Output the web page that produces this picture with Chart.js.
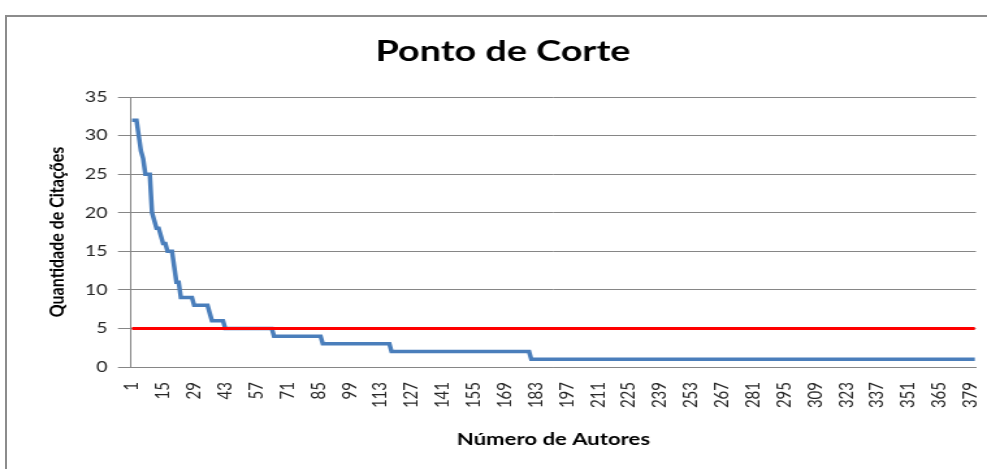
<!DOCTYPE html>
<html>
<head>
<meta charset="utf-8">
<script src="https://cdn.jsdelivr.net/npm/chart.js@4.4.0/dist/chart.umd.min.js"></script>
<style>
    html, body { margin: 0; padding: 0; background: #fff; overflow: hidden; }
    #moldura { position: absolute; left: 5px; top: 15px; width: 1000px; height: 500px;
        border-left: 2px solid #8c8c8c; border-top: 2px solid #8c8c8c; }
    /* o grafico original esta esticado na horizontal */
    #caixa { position: absolute; left: 0; top: 0; width: 759px; height: 469px;
        transform: scaleX(1.3004); transform-origin: 0 0; }
</style>
</head>
<body>
<div id="moldura"></div>
<div id="caixa"><canvas id="graficoCorte" width="759" height="469"></canvas></div>
<script>
// niveis de citacao e quantos autores ficam em cada nivel
const niveisCitacoes = [32, 30, 28, 27, 25, 20, 19, 18, 17, 16, 15, 13, 11, 9, 8, 7, 6, 5, 4, 3, 2, 1];
const autoresPorNivel = [3, 1, 1, 1, 3, 1, 1, 2, 1, 2, 3, 1, 2, 6, 7, 1, 6, 22, 22, 31, 63, 201];
const pontoDeCorte = 5;
const rotulosEixoX = ["1", "15", "29", "43", "57", "71", "85", "99", "113", "127", "141", "155", "169", "183",
    "197", "211", "225", "239", "253", "267", "281", "295", "309", "323", "337", "351", "365", "379"];
const marcasEixoY = [0, 5, 10, 15, 20, 25, 30, 35];

var citacoes = [];
niveisCitacoes.forEach((nivel, i) => {
    for (let k = 0; k < autoresPorNivel[i]; k++) citacoes.push(nivel);
});
var autores = citacoes.map((c, i) => String(i + 1));
var linhaCorte = autores.map(() => pontoDeCorte);

const fonteEixo = { family: "Lato", size: 15 };

// titulo desenhado a mao pra ficar centrado na moldura e nao no grafico
const tituloPlugin = {
    id: "tituloCorte",
    afterDraw(chart) {
        const c = chart.ctx;
        c.save();
        c.font = "bold 29px Lato";
        c.fillStyle = "#000";
        c.textAlign = "center";
        c.textBaseline = "middle";
        c.fillText("Ponto de Corte", 386.8, 52);
        c.restore();
    }
};

new Chart(document.getElementById("graficoCorte"), {
    type: "line",
    data: {
        labels: autores,
        datasets: [
            {
                label: "Ponto de corte",
                data: linhaCorte,
                borderColor: "#ff0000",
                borderWidth: 3,
                pointRadius: 0,
                order: 0
            },
            {
                label: "Citações",
                data: citacoes,
                borderColor: "#4a7ebb",
                borderWidth: 3.5,
                pointRadius: 0,
                tension: 0,
                order: 1
            }
        ]
    },
    options: {
        responsive: false,
        animation: false,
        layout: { padding: { top: 97, right: 8.5, bottom: 0, left: 0 } },
        plugins: {
            legend: { display: false },
            tooltip: { enabled: false },
            title: { display: false }
        },
        scales: {
            x: {
                offset: true,
                grid: { display: false, drawTicks: false },
                border: { color: "#868686", width: 1 },
                ticks: {
                    autoSkip: false,
                    minRotation: 90,
                    maxRotation: 90,
                    padding: 15,
                    color: "#262626",
                    font: fonteEixo,
                    callback: function (v, i) {
                        var r = autores[i];
                        return rotulosEixoX.includes(r) ? r : "";
                    }
                },
                title: {
                    display: true,
                    text: "Número de Autores",
                    color: "#000",
                    font: { family: "Lato", size: 17, weight: "bold" },
                    padding: { top: 0, bottom: 19 }
                },
                afterFit: (s) => {
                    s.height = 102;
                    // sem folga extra dos rotulos girados
                    s.paddingLeft = 0;
                    s.paddingRight = 0;
                }
            },
            y: {
                min: marcasEixoY[0],
                max: marcasEixoY[marcasEixoY.length - 1],
                ticks: { stepSize: 5, padding: 8, color: "#262626", font: fonteEixo },
                grid: { color: "#868686", tickLength: 10 },
                border: { color: "#868686" },
                title: {
                    display: true,
                    text: "Quantidade de Citações",
                    color: "#000",
                    font: { family: "Lato", size: 16, weight: "bold" },
                    padding: { top: 34, bottom: 0 }
                },
                afterFit: (s) => { s.width = 100.7; }
            }
        }
    },
    plugins: [tituloPlugin]
});
</script>
</body>
</html>
